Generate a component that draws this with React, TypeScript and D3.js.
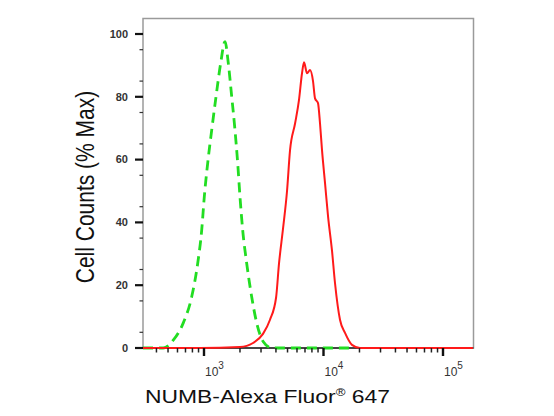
import * as d3 from "d3";
import React from "react";

// isotype control (green dashed)
const controlX = [309, 456, 553, 671, 789, 886, 957, 1006, 1074, 1160, 1260, 1379, 1499, 1597, 1706, 1817, 1914, 2000, 2107, 2276, 2506, 2760, 3135, 3686, 17660];
const controlY = [0, 0, 2.5, 8, 16.3, 27, 37.6, 48.2, 58.9, 69.4, 80, 90.7, 97.6, 90.7, 80, 69.4, 58.9, 48.2, 37.6, 27, 16.3, 8, 2, 0, 0];

// NUMB stained (red)
const stainX = [309, 926, 2000, 2572, 3117, 3567, 4008, 4246, 4584, 4952, 5248, 5781, 6237, 6608, 6871, 7278, 7711, 8170, 8492, 8995, 9352, 9718, 10300, 10910, 11780, 12480, 13740, 15140, 17310, 20180, 178000];
const stainY = [0, 0, 0.3, 1.6, 4.5, 9, 16, 27, 38, 50, 63, 71.5, 79, 87.5, 91, 87.5, 88.5, 85, 79.5, 78, 71.5, 63, 52.5, 42, 31, 20.7, 9, 4.8, 1, 0, 0];

const yTicks = [0, 20, 40, 60, 80, 100];
const xDecades = [3, 4, 5];

const W = 554;
const H = 416;
const frame = { left: 143, right: 473.5, top: 18.5, bottom: 348 };

export default function App() {
  const x = d3.scaleLog().domain([1e3, 1e5]).range([204, 443]);
  const y = d3.scaleLinear().domain([0, 100]).range([348, 34]);

  const line = d3
    .line<[number, number]>()
    .x((d) => x(d[0]))
    .y((d) => y(d[1]))
    .curve(d3.curveMonotoneX);

  const control = controlX.map((v, i) => [v, controlY[i]] as [number, number]);
  const stain = stainX.map((v, i) => [v, stainY[i]] as [number, number]);

  // minor ticks on log axis
  const [x0, x1] = [x.invert(frame.left), x.invert(frame.right)];
  const minorX: number[] = [];
  for (let e = 2; e <= 5; e++) {
    for (let m = 2; m <= 9; m++) {
      const v = m * Math.pow(10, e);
      if (v > x0 && v < x1) minorX.push(v);
    }
  }
  const minorY = d3.range(5, 100, 10);

  const font = "Arial, 'Liberation Sans', Helvetica, sans-serif";

  return (
    <svg
      width={W}
      height={H}
      style={{ position: "absolute", left: 0, top: 0, background: "#fff" }}
      fontFamily={font}
    >
      <rect
        x={frame.left}
        y={frame.top}
        width={frame.right - frame.left}
        height={frame.bottom - frame.top}
        fill="none"
        stroke="#9a9a9a"
        strokeWidth={1.5}
      />
      <line x1={135} x2={frame.right} y1={frame.bottom} y2={frame.bottom} stroke="#222" strokeWidth={1.5} />

      <path d={line(control) || ""} fill="none" stroke="#22dd22" strokeWidth={2.8} strokeDasharray="10,6" />
      <path d={line(stain) || ""} fill="none" stroke="#ff1a1a" strokeWidth={2} />

      {/* y axis */}
      {yTicks.map((t) => (
        <g key={"y" + t} transform={`translate(0,${y(t)})`}>
          <line x1={135} x2={frame.left} stroke="#111" strokeWidth={2.2} />
          <text x={128} dy="0.35em" textAnchor="end" fontSize={11} fontWeight="bold" fill="#333">
            {t}
          </text>
        </g>
      ))}
      {minorY.map((t) => (
        <line key={"my" + t} x1={139.5} x2={frame.left} y1={y(t)} y2={y(t)} stroke="#333" strokeWidth={1.2} />
      ))}

      {/* x axis */}
      {xDecades.map((e) => {
        const px = x(Math.pow(10, e));
        return (
          <g key={"x" + e}>
            <line x1={px} x2={px} y1={frame.bottom} y2={frame.bottom + 8} stroke="#111" strokeWidth={2.4} />
            <text x={px + 1} y={376} fontSize={12} fill="#333">
              10
              <tspan dy={-7} fontSize={10}>
                {e}
              </tspan>
            </text>
          </g>
        );
      })}
      {minorX.map((v) => (
        <line key={"mx" + v} x1={x(v)} x2={x(v)} y1={frame.bottom} y2={frame.bottom + 4.5} stroke="#222" strokeWidth={1.5} />
      ))}

      {/* titles */}
      <text
        transform="translate(94,187) scale(1.2,1) rotate(-90)"
        textAnchor="middle"
        fontSize={21}
        fill="#111"
      >
        Cell Counts (% Max)
      </text>
      <text x={145} y={403} fontSize={19} fill="#111" textLength={245} lengthAdjust="spacingAndGlyphs">
        NUMB-Alexa Fluor
        <tspan fontSize={11} dy={-7}>®</tspan>
        <tspan dy={7}> 647</tspan>
      </text>
    </svg>
  );
}
